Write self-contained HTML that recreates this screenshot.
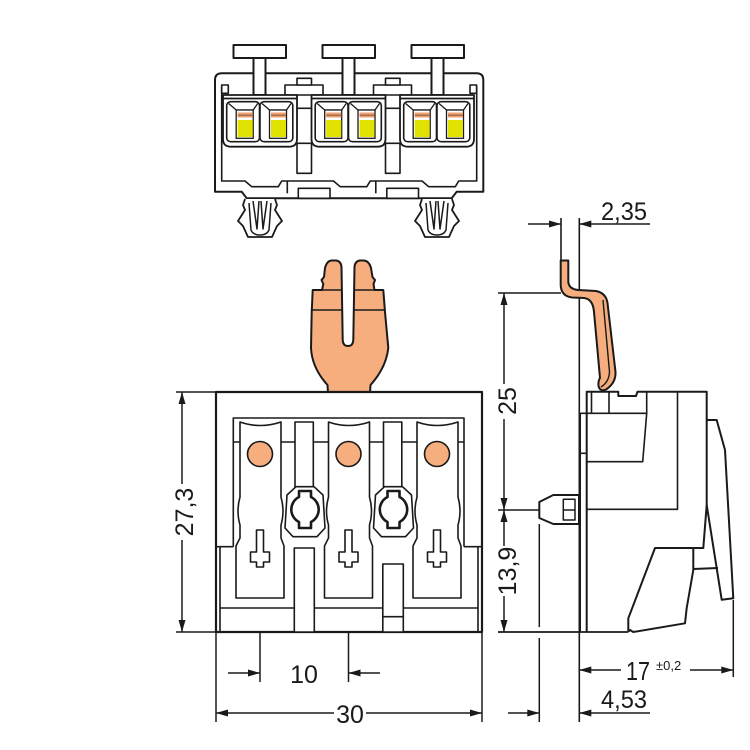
<!DOCTYPE html>
<html><head><meta charset="utf-8"><style>
html,body{margin:0;padding:0;background:#fff;}
svg{display:block;}
text{font-family:"Liberation Sans",Arial,sans-serif;fill:#1a1a1a;}
</style></head><body>
<svg width="750" height="750" viewBox="0 0 750 750" xmlns="http://www.w3.org/2000/svg">
<rect width="750" height="750" fill="#fff"/>

<!-- ================= TOP VIEW ================= -->
<g fill="none" stroke="#1a1a1a" stroke-width="2" stroke-linejoin="round">
  <rect x="233.5" y="45" width="52.5" height="13" fill="#fff"/>
  <rect x="322.5" y="45" width="52.5" height="13" fill="#fff"/>
  <rect x="411.5" y="45" width="52.5" height="13" fill="#fff"/>
  <path d="M215,80 Q215,73.3 222,73.3 L476.5,73.3 Q483.3,73.3 483.3,80 L483.3,191.7 L456.7,191.7 L451.7,198.3 L246.7,198.3 L241.7,191.7 L215,191.7 Z" fill="#fff"/>
  <rect x="253.5" y="58" width="12" height="37" fill="#fff"/>
  <rect x="342.5" y="58" width="12" height="37" fill="#fff"/>
  <rect x="431.5" y="58" width="12" height="37" fill="#fff"/>
  <g stroke-width="1.6">
    <polyline points="221.7,86 221.7,181 245,181 251.7,186.7 278.3,186.7 281.7,181 333.5,181 340.2,186.7 366.8,186.7 370.2,181 422,181 428.7,186.7 455.3,186.7 458.7,181 476.7,181 476.7,86"/>
    <rect x="221.7" y="85" width="6.6" height="8.3" fill="#fff"/>
    <rect x="470" y="85" width="6.6" height="8.3" fill="#fff"/>
    <line x1="287.3" y1="181" x2="287.3" y2="193.3"/>
    <line x1="375.8" y1="181" x2="375.8" y2="193.3"/>
    <rect x="298.3" y="188.3" width="31.7" height="10" fill="#fff"/>
    <rect x="386.8" y="188.3" width="31.7" height="10" fill="#fff"/>
    <rect x="285" y="85" width="38" height="10" fill="#fff"/>
    <rect x="297" y="78.3" width="14.5" height="6.7" fill="#fff"/>
    <rect x="373.5" y="85" width="38" height="10" fill="#fff"/>
    <rect x="385.5" y="78.3" width="14.5" height="6.7" fill="#fff"/>
    <line x1="297" y1="108.3" x2="311.5" y2="108.3"/>
    <line x1="385.5" y1="108.3" x2="400" y2="108.3"/>
    <rect x="297" y="143.3" width="14.5" height="30" fill="#fff"/>
    <rect x="385.5" y="143.3" width="14.5" height="30" fill="#fff"/>
  </g>
  <g stroke-width="1.8">
    <path d="M223,95 L297,95 L297,139 Q297,146.7 289,146.7 L231,146.7 Q223,146.7 223,139 Z" fill="#fff"/>
    <path d="M311.5,95 L385.5,95 L385.5,139 Q385.5,146.7 377.5,146.7 L319.5,146.7 Q311.5,146.7 311.5,139 Z" fill="#fff"/>
    <path d="M400,95 L474,95 L474,139 Q474,146.7 466,146.7 L408,146.7 Q400,146.7 400,139 Z" fill="#fff"/>
    <line x1="223" y1="98.5" x2="297" y2="98.5"/>
    <line x1="311.5" y1="98.5" x2="385.5" y2="98.5"/>
    <line x1="400" y1="98.5" x2="474" y2="98.5"/>
  </g>
</g>

<defs>
  <g id="cell">
    <rect x="0" y="101.7" width="32.8" height="40" rx="4" fill="#fff" stroke="#1a1a1a" stroke-width="1.6"/>
    <path d="M2,103.5 L9.5,110 L26.5,110 L31,103.5" fill="none" stroke="#1a1a1a" stroke-width="1.3"/>
    <rect x="9.5" y="110" width="17" height="28.3" fill="#fff" stroke="#1a1a1a" stroke-width="1.3"/>
    <rect x="11" y="112.5" width="15" height="5" fill="#eea070"/>
    <line x1="11" y1="115.2" x2="26" y2="115.2" stroke="#8a5a3a" stroke-width="1"/>
    <rect x="11" y="120" width="15" height="17" fill="#e2e200"/>
  </g>
  <g id="clip">
    <path d="M-15,-1 L-17,5 L-15,10 L-22,21 L-17,26 L-12,37 L12,37 L17,26 L22,21 L15,10 L17,5 L15,-1" fill="#fff" stroke="#1a1a1a" stroke-width="1.8" stroke-linejoin="round"/>
    <path d="M-11,3 L-9,30 Q-7,35 0,35 Q7,35 9,30 L11,3" fill="none" stroke="#1a1a1a" stroke-width="1.5"/>
    <path d="M-7,1 L-3,29 L-1,1 M1,1 L3,29 L7,1" fill="none" stroke="#1a1a1a" stroke-width="1.5" stroke-linejoin="round"/>
  </g>
</defs>
<use href="#cell" x="226.7"/>
<use href="#cell" x="260"/>
<use href="#cell" x="315.2"/>
<use href="#cell" x="348.5"/>
<use href="#cell" x="403.7"/>
<use href="#cell" x="437"/>

<use href="#clip" x="260" y="200"/>
<use href="#clip" x="437" y="200"/>

<!-- ================= FRONT VIEW ================= -->
<g fill="none" stroke="#1a1a1a" stroke-linejoin="round">
  <path d="M328,393 L327.5,385 Q312,368 311,348 L311.7,312 L312.7,290 L322,290 L323.3,284 L321.5,280 L324,277 L325,268 Q327,260.5 332,260.5 L336,260.5 Q341,261 341.5,267 L342.7,340 Q343,346 348,346 Q353,346 353.3,340 L354.5,267 Q355,261 360,260.5 L364,260.5 Q369,261 371,268 L372.5,277 L375,280 L373.5,284 L374.5,290 L383.3,290 L385,312 L388.3,348 Q386,368 370.5,385 L370,393 Z" fill="#f7ae7e" stroke-width="2"/>
  <path d="M312,310 L342.7,310 M353.3,310 L385,310 M313,290 L342,290 M354,290 L383,290" stroke-width="1.5"/>
  <rect x="216" y="392" width="266" height="240" fill="#fff" stroke-width="2.2"/>
  <g stroke-width="1.6">
    <path d="M233.3,546.7 L233.3,418 L464,418 L464,546.7"/>
    <path d="M216,546.7 L233.3,546.7 M464,546.7 L482,546.7"/>
    <path d="M220,546.7 L220,632 M478,546.7 L478,632"/>
    <line x1="233.3" y1="442" x2="464" y2="442"/>
    <line x1="220" y1="608" x2="478" y2="608"/>
    <rect x="295" y="422" width="18.3" height="65" fill="#fff"/>
    <rect x="383.5" y="422" width="18.3" height="65" fill="#fff"/>
    <g id="blade">
      <path d="M240,422 Q260,429 281,422 L281,497 Q285,511 281,525 L281,538 L284,546 L284,598 L236,598 L236,546 L240,538 L240,525 Q236,511 240,497 Z" fill="#fff"/>
    </g>
    <use href="#blade" x="88.5"/>
    <use href="#blade" x="177"/>
    <path d="M296,486.7 L314,486.7 L323,495 L325,528 L317,536.7 L293,536.7 L285,528 L287,495 Z" fill="#fff"/>
    <path d="M384.5,486.7 L402.5,486.7 L411.5,495 L413.5,528 L405.5,536.7 L381.5,536.7 L373.5,528 L375.5,495 Z" fill="#fff"/>
    <rect x="294.3" y="548" width="20" height="84" fill="#fff"/>
    <rect x="382.8" y="564" width="20.5" height="68" fill="#fff"/>
    <line x1="382.8" y1="616.7" x2="403.3" y2="616.7"/>
    <path d="M256.5,530 h7 v22 h6 v10 h-6 v5 h-7 v-5 h-6 v-10 h6 Z" fill="#fff"/>
    <path d="M345,530 h7 v22 h6 v10 h-6 v5 h-7 v-5 h-6 v-10 h6 Z" fill="#fff"/>
    <path d="M433.5,530 h7 v22 h6 v10 h-6 v5 h-7 v-5 h-6 v-10 h6 Z" fill="#fff"/>
  </g>
  <path d="M299,491 L311,491 L311,497 A14 14 0 0 1 311,522 L311,528 L299,528 L299,522 A14 14 0 0 1 299,497 Z" fill="#fff" stroke-width="2.6"/>
  <path d="M387.5,491 L399.5,491 L399.5,497 A14 14 0 0 1 399.5,522 L399.5,528 L387.5,528 L387.5,522 A14 14 0 0 1 387.5,497 Z" fill="#fff" stroke-width="2.6"/>
  <circle cx="260" cy="454" r="12.5" fill="#f7ae7e" stroke-width="1.6"/>
  <circle cx="348.5" cy="454" r="12.5" fill="#f7ae7e" stroke-width="1.6"/>
  <circle cx="437" cy="454" r="12.5" fill="#f7ae7e" stroke-width="1.6"/>
</g>

<!-- ================= SIDE VIEW ================= -->
<g fill="none" stroke="#1a1a1a" stroke-linejoin="round">
  <line x1="579.3" y1="218" x2="579.3" y2="722" stroke-width="1.6"/>
  <line x1="561" y1="218" x2="561" y2="262" stroke-width="1.6"/>
  <path d="M560.7,260.5 L568.3,260.5 L568.3,282 Q569,289 578,290 L596,291 Q606,293 607.5,303 L615.5,372 Q616,383 606,389.5 Q600,392 598.5,386 Q598,381 600,378 L594,312 Q593,299 584,298 L572,297.5 Q561,296 560.7,285 Z" fill="#f7ae7e" stroke-width="2"/>
  <path d="M603,300 L609.5,372 Q609,382 601,387" stroke-width="1.4"/>
  <g stroke-width="2">
    <path d="M586.7,632 L586.7,391.7 L618.3,391.7 L618.3,396 L636,396 L637.5,391.7 L706.7,391.7 L706.7,420 L716.7,420 L725,450 L733.3,598.3 L721.7,599.8 L706.7,505 L706.7,420"/>
    <path d="M706.7,505 L703.3,548 L655,548 L628.3,618.3 L628.3,631.7"/>
    <path d="M693.3,548 L693.3,570 L686.7,608 L685,623.3 L633.3,632 L630,630 L628.3,631.7"/>
    <path d="M693.3,569 L718,568"/>
    <path d="M580,413.3 L580,632"/>
    <line x1="498" y1="632" x2="628.3" y2="632" stroke-width="1.8"/>
  </g>
  <g stroke-width="1.6">
    <path d="M580,413.3 L646.7,413.3"/>
    <path d="M580,453.3 L586.7,453.3"/>
    <path d="M591.5,391.7 L591.5,413.3 M609,391.7 L609,413.3"/>
    <path d="M646.7,391.7 L646.7,413.3 L642.7,461.7 L586.7,461.7"/>
    <path d="M677.5,391.7 L677.5,509.3 L586.7,509.3"/>
  </g>
  <path d="M539.3,502 L553.3,495 L579,495 L579,524 L553.3,524 L539.3,518 Z" fill="#fff" stroke-width="2"/>
  <rect x="563.3" y="499.3" width="11.7" height="20.7" stroke-width="1.5"/>
  <line x1="563.3" y1="510" x2="575" y2="510" stroke-width="1.5"/>
</g>

<!-- ================= DIMENSIONS ================= -->
<g fill="none" stroke="#1a1a1a" stroke-width="1.5">
  <line x1="176" y1="392" x2="216" y2="392"/>
  <line x1="176" y1="632" x2="216" y2="632"/>
  <line x1="182" y1="392" x2="182" y2="484"/>
  <line x1="182" y1="540" x2="182" y2="632"/>
  <line x1="216" y1="632" x2="216" y2="722"/>
  <line x1="482" y1="632" x2="482" y2="722"/>
  <line x1="260" y1="632" x2="260" y2="682"/>
  <line x1="348.5" y1="632" x2="348.5" y2="682"/>
  <line x1="228" y1="673" x2="260" y2="673"/>
  <line x1="348.5" y1="673" x2="380" y2="673"/>
  <line x1="216" y1="713" x2="334" y2="713"/>
  <line x1="366" y1="713" x2="482" y2="713"/>
  <line x1="528" y1="224" x2="561" y2="224"/>
  <line x1="579.3" y1="224" x2="650" y2="224"/>
  <line x1="498" y1="293" x2="561" y2="293"/>
  <line x1="498" y1="510" x2="539.3" y2="510"/>
  <line x1="504" y1="293" x2="504" y2="384"/>
  <line x1="504" y1="419" x2="504" y2="510"/>
  <line x1="504" y1="510" x2="504" y2="546"/>
  <line x1="504" y1="596" x2="504" y2="632"/>
  <line x1="539.3" y1="524" x2="539.3" y2="627"/>
  <line x1="539.3" y1="638" x2="539.3" y2="722"/>
  <line x1="508" y1="713" x2="539.3" y2="713"/>
  <line x1="579.3" y1="713" x2="650" y2="713"/>
  <line x1="733.3" y1="600" x2="733.3" y2="677"/>
  <line x1="579.3" y1="670" x2="621" y2="670"/>
  <line x1="690" y1="670" x2="733.3" y2="670"/>
</g>
<g fill="#1a1a1a" stroke="none">
  <polygon points="182,392 178.5,404 185.5,404"/>
  <polygon points="182,632 178.5,620 185.5,620"/>
  <polygon points="260,673 248,669.5 248,676.5"/>
  <polygon points="348.5,673 360.5,669.5 360.5,676.5"/>
  <polygon points="216,713 228,709.5 228,716.5"/>
  <polygon points="482,713 470,709.5 470,716.5"/>
  <polygon points="561,224 549,220.5 549,227.5"/>
  <polygon points="579.3,224 591.3,220.5 591.3,227.5"/>
  <polygon points="504,293 500.5,305 507.5,305"/>
  <polygon points="504,510 500.5,498 507.5,498"/>
  <polygon points="504,510 500.5,522 507.5,522"/>
  <polygon points="504,632 500.5,620 507.5,620"/>
  <polygon points="579.3,670 591.3,666.5 591.3,673.5"/>
  <polygon points="733.3,670 721.3,666.5 721.3,673.5"/>
  <polygon points="539.3,713 527.3,709.5 527.3,716.5"/>
  <polygon points="579.3,713 591.3,709.5 591.3,716.5"/>
</g>

<text x="304" y="683" text-anchor="middle" font-size="25">10</text>
<text x="350" y="723" text-anchor="middle" font-size="25">30</text>
<text x="601" y="220" font-size="25" textLength="46" lengthAdjust="spacingAndGlyphs">2,35</text>
<text x="601" y="708" font-size="25" textLength="46" lengthAdjust="spacingAndGlyphs">4,53</text>
<text x="626" y="680" font-size="26" textLength="24" lengthAdjust="spacingAndGlyphs">17</text>
<text x="656" y="670" font-size="13">±0,2</text>
<text transform="translate(193,512) rotate(-90)" text-anchor="middle" font-size="25">27,3</text>
<text transform="translate(516,401) rotate(-90)" text-anchor="middle" font-size="25">25</text>
<text transform="translate(516,571) rotate(-90)" text-anchor="middle" font-size="25">13,9</text>
</svg>
</body></html>
